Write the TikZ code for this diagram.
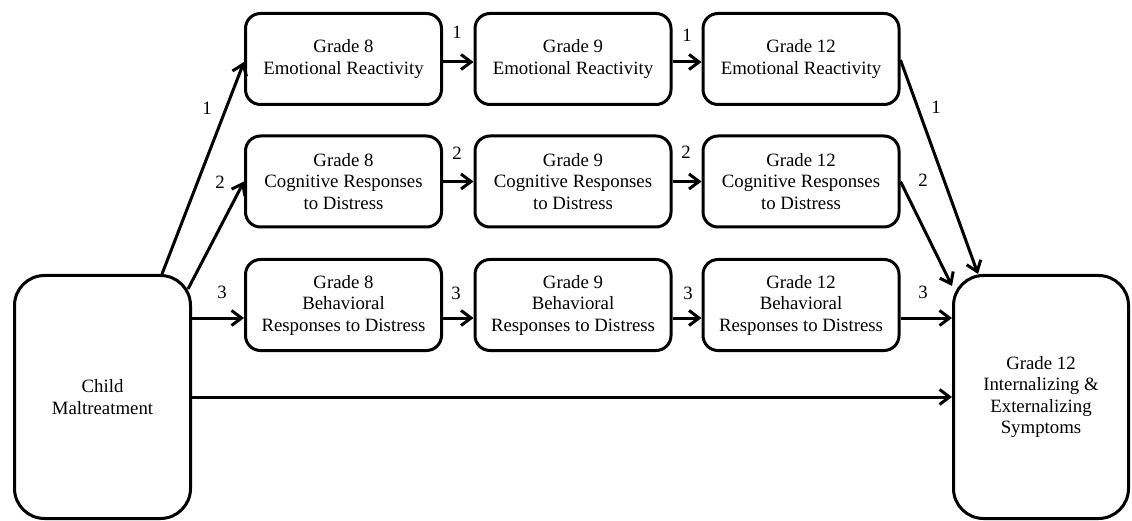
\documentclass[tikz,border=0pt]{standalone}
\usepackage{fontspec}
\setmainfont{Liberation Serif}
\usetikzlibrary{arrows.meta,calc}
\begin{document}
\begin{tikzpicture}[x=1pt,y=-1pt,
  txt/.style={font=\fontsize{18.8}{21.5}\selectfont},
  box/.style={txt,draw,line width=3pt,rounded corners=15pt,minimum width=196pt,minimum height=91pt,align=center,inner sep=0pt},
  bigbox/.style={txt,draw,line width=3pt,rounded corners=30pt,minimum width=176pt,minimum height=243pt,align=center,inner sep=0pt},
  conn/.style={line width=3pt,-{Straight Barb[length=10pt,width=15pt]}},
  lbl/.style={txt,inner sep=0pt}]
\useasboundingbox (0,0) rectangle (1132,521);
% big boxes
\node[bigbox] (child) at (102.5,397) {Child\\Maltreatment};
\node[bigbox,minimum width=175pt] (out) at (1041,397) {Grade 12\\Internalizing \&\\Externalizing\\Symptoms};
% row 1
\node[box] (g8er) at (343.5,59) {Grade 8\\Emotional Reactivity};
\node[box] (g9er) at (573,59) {Grade 9\\Emotional Reactivity};
\node[box] (g12er) at (801,59) {Grade 12\\Emotional Reactivity};
% row 2
\node[box] (g8cr) at (343.5,181.5) {Grade 8\\Cognitive Responses\\to Distress};
\node[box] (g9cr) at (573,181.5) {Grade 9\\Cognitive Responses\\to Distress};
\node[box] (g12cr) at (801,181.5) {Grade 12\\Cognitive Responses\\to Distress};
% row 3
\node[box] (g8br) at (343.5,305) {Grade 8\\Behavioral\\Responses to Distress};
\node[box] (g9br) at (573,305) {Grade 9\\Behavioral\\Responses to Distress};
\node[box] (g12br) at (801,305) {Grade 12\\Behavioral\\Responses to Distress};
% connectors from child
\draw[conn] ($(child.north east)+(-30,0)$) -- ($(g8er.west)+(0,3)$);
\draw[conn] ($(child.north east)+(-4,15)$) -- (g8cr.west);
\draw[conn] ($(child.east |- g8br.west)+(0,13)$) -- ($(g8br.west)+(0,13)$);
\draw[conn] (child.east) -- (out.west);
% row connectors
\draw[conn] ($(g8er.east)+(0,3)$) -- ($(g9er.west)+(0,3)$);
\draw[conn] ($(g9er.east)+(0,3)$) -- ($(g12er.west)+(0,3)$);
\draw[conn] (g8cr.east) -- (g9cr.west);
\draw[conn] (g9cr.east) -- (g12cr.west);
\draw[conn] ($(g8br.east)+(0,13)$) -- ($(g9br.west)+(0,13)$);
\draw[conn] ($(g9br.east)+(0,13)$) -- ($(g12br.west)+(0,13)$);
% to outcome
\draw[conn] ($(g12er.east)+(0,1)$) -- ($(out.north west)+(26,0)$);
\draw[conn] (g12cr.east) -- ($(out.north west)+(0,12)$);
\draw[conn] ($(g12br.east)+(0,13)$) -- ($(out.west |- g12br.east)+(0,13)$);
% labels
\node[lbl] (l1a) at (207,108) {1};
\node[lbl] (l2a) at (220,182) {2};
\node[lbl] (l3a) at (222,292) {3};
\node[lbl] (l1b) at (457,32) {1};
\node[lbl] (l2b) at (457,153) {2};
\node[lbl] (l3b) at (456,293) {3};
\node[lbl] (l1c) at (687,35) {1};
\node[lbl] (l2c) at (686,152) {2};
\node[lbl] (l3c) at (688,293) {3};
\node[lbl] (l1d) at (936,107) {1};
\node[lbl] (l2d) at (923,180) {2};
\node[lbl] (l3d) at (923,292) {3};
\end{tikzpicture}
\end{document}
